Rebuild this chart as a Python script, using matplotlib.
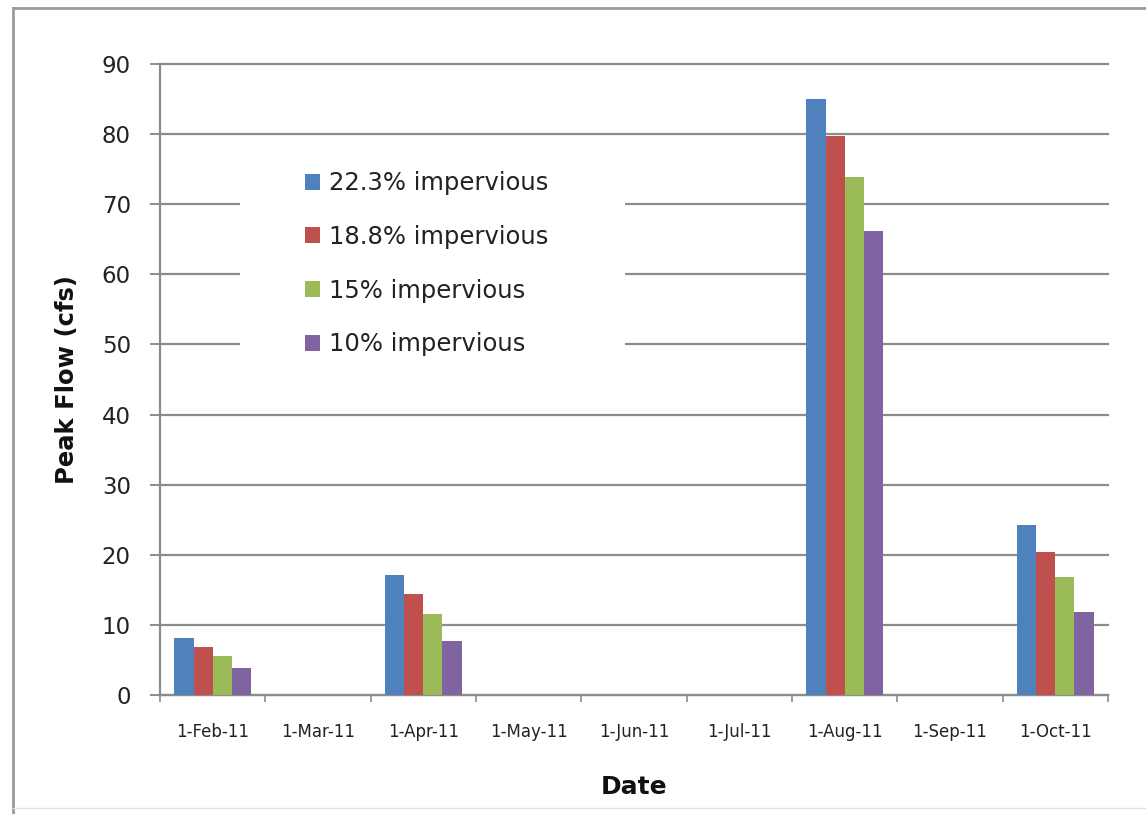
import numpy as np
import matplotlib.pyplot as plt
from matplotlib.patches import Rectangle
from matplotlib.lines import Line2D

plt.rcParams['font.family'] = ['DejaVu Sans']

dates = ['1-Feb-11', '1-Mar-11', '1-Apr-11', '1-May-11', '1-Jun-11',
         '1-Jul-11', '1-Aug-11', '1-Sep-11', '1-Oct-11']
series_names = ['22.3% impervious', '18.8% impervious', '15% impervious', '10% impervious']
imp_223 = [8.2, 0, 17.1, 0, 0, 0, 85.0, 0, 24.2]
imp_188 = [6.9, 0, 14.4, 0, 0, 0, 79.7, 0, 20.4]
imp_150 = [5.5, 0, 11.5, 0, 0, 0, 73.9, 0, 16.8]
imp_100 = [3.8, 0, 7.7, 0, 0, 0, 66.2, 0, 11.8]
colors = ['#4F81BD', '#C0504D', '#9BBB59', '#8064A2']

W, H = 1146, 814
fig = plt.figure(figsize=(W / 100, H / 100), dpi=100)
fig.patch.set_facecolor('white')

# chart frame (left/top/bottom edges, right edge runs off the page)
fig.add_artist(Line2D([13 / W, 13 / W], [0, 1 - 8 / H], transform=fig.transFigure,
                     color='#9a9a9a', lw=2))
fig.add_artist(Line2D([13 / W, 1], [1 - 8 / H, 1 - 8 / H], transform=fig.transFigure,
                     color='#9a9a9a', lw=2))
fig.add_artist(Line2D([13 / W, 1], [1 - 808 / H, 1 - 808 / H], transform=fig.transFigure,
                     color='#e4e4e4', lw=1))

ax = fig.add_axes([160 / W, 1 - 695 / H, 948 / W, 631 / H])

x = np.arange(len(dates))
width = 1 / 5.5
all_series = [imp_223, imp_188, imp_150, imp_100]
for i, (vals, name, c) in enumerate(zip(all_series, series_names, colors)):
    ax.bar(x + (i - 1.5) * width, vals, width, color=c, label=name, zorder=3)

ax.set_xlim(-0.5, len(dates) - 0.5)
ax.set_ylim(0, 90)
ax.set_yticks(np.arange(0, 91, 10))
ax.yaxis.grid(True, color='#8c8c8c', lw=1.6, zorder=0)
for gl in ax.get_ygridlines():
    gl.set_clip_on(False)
ax.set_axisbelow(True)

ax.set_xticks(x)
ax.set_xticklabels(dates, fontsize=12, color='#222222')
ax.set_xticks(np.arange(-0.5, len(dates), 1), minor=True)
ax.tick_params(axis='x', which='major', length=0, pad=20)
ax.tick_params(axis='x', which='minor', length=5, width=1.2, color='#8c8c8c')
ax.tick_params(axis='y', length=7, width=1.4, color='#8c8c8c', labelsize=16.5,
               labelcolor='#222222', pad=14)

for s in ['top', 'right']:
    ax.spines[s].set_visible(False)
for s in ['left', 'bottom']:
    ax.spines[s].set_color('#8c8c8c')
    ax.spines[s].set_linewidth(1.6)

ax.set_xlabel('Date', fontsize=18, fontweight='bold', labelpad=25, color='#111111')
ax.set_ylabel('Peak Flow (cfs)', fontsize=17.5, fontweight='bold', labelpad=16,
              color='#111111')

# white panel behind the legend hides the gridlines
ax.add_patch(Rectangle((0.0844, 0.515), 0.406, 0.349, transform=ax.transAxes,
                       facecolor='white', edgecolor='none', zorder=2))
leg = ax.legend(loc='upper left', bbox_to_anchor=(0.153, 0.830), frameon=False,
                fontsize=17.5, handlelength=0.62, handleheight=0.62,
                handletextpad=0.37, labelspacing=1.22, borderpad=0, borderaxespad=0)
for t in leg.get_texts():
    t.set_color('#222222')
leg.set_zorder(4)

fig.savefig('out.png', dpi=100)
